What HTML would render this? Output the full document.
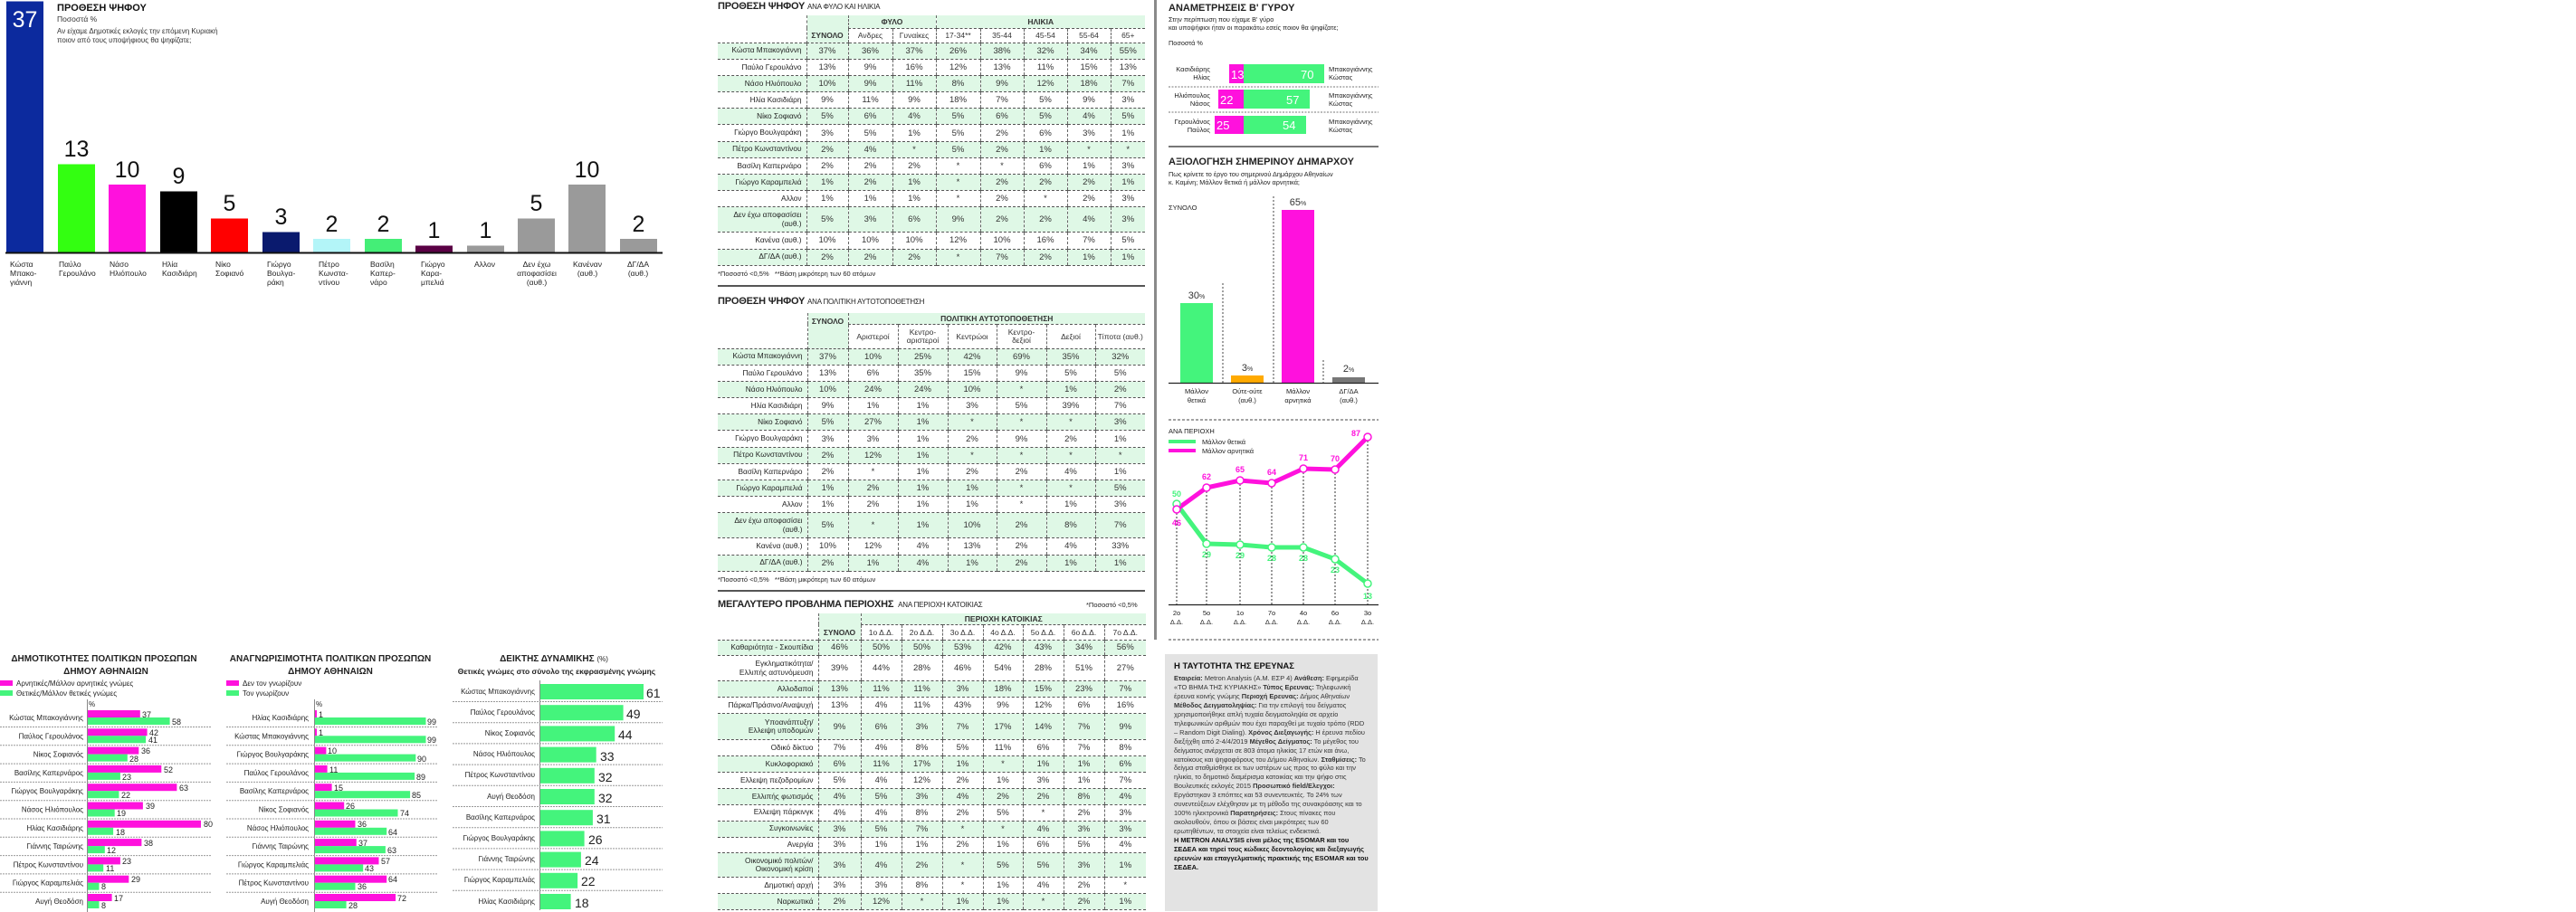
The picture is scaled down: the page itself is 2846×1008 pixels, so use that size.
<!DOCTYPE html>
<html><head><meta charset="utf-8">
<style>
body{margin:0;width:2846px;height:1008px;position:relative;overflow:hidden;background:#fff;font-family:"Liberation Sans","DejaVu Sans",sans-serif;color:#222}
.a{position:absolute}
table{border-collapse:collapse;table-layout:fixed;position:absolute;font-size:9.5px}
td{padding:0;text-align:center;border-bottom:1px dashed #555;border-left:1px dashed #666;color:#333;white-space:nowrap;overflow:hidden}
td:first-child{text-align:right;padding-right:5px;border-left:none;font-size:8.3px;color:#222;line-height:9.5px}
tr.g td{background:#dff8e6}
tr.h td{border-bottom:1px dashed #555;font-size:8.5px}
td.s{background:#dff8e6;font-weight:bold;font-size:9px}
.tt{position:absolute;font-weight:bold;font-size:11px;font-family:"Liberation Sans Narrow","Liberation Sans",sans-serif;letter-spacing:-.2px}
.tt span{font-weight:normal;font-size:8px;font-family:"Liberation Sans",sans-serif}
</style></head><body>

<svg class="a" style="left:0;top:0" width="2846" height="1008" font-family="Liberation Sans Narrow, Liberation Sans, sans-serif">
<g>
<rect x="7" y="1.5" width="41" height="277.5" fill="#0c2a9e"/>
<rect x="64" y="181.5" width="41" height="97.5" fill="#33ff11"/>
<rect x="120" y="204" width="41" height="75" fill="#ff11dd"/>
<rect x="177" y="211.5" width="41" height="67.5" fill="#000"/>
<rect x="233" y="241.5" width="41" height="37.5" fill="#ff0000"/>
<rect x="290" y="256.5" width="41" height="22.5" fill="#0a1a6e"/>
<rect x="346" y="264" width="41" height="15" fill="#b3f5f8"/>
<rect x="403" y="264" width="41" height="15" fill="#44ee77"/>
<rect x="459" y="271.5" width="41" height="7.5" fill="#5a0044"/>
<rect x="516" y="271.5" width="41" height="7.5" fill="#9a9a9a"/>
<rect x="572" y="241.5" width="41" height="37.5" fill="#9a9a9a"/>
<rect x="628" y="204" width="41" height="75" fill="#9a9a9a"/>
<rect x="685" y="264" width="41" height="15" fill="#9a9a9a"/>
<line x1="6" y1="279.5" x2="732" y2="279.5" stroke="#111" stroke-width="2"/>
<g font-size="25" text-anchor="middle" fill="#111">
<text x="27.5" y="30" fill="#fff">37</text>
<text x="84.5" y="173">13</text><text x="140.5" y="196">10</text><text x="197.5" y="203">9</text>
<text x="253.5" y="233">5</text><text x="310.5" y="248">3</text><text x="366.5" y="256">2</text>
<text x="423.5" y="256">2</text><text x="479.5" y="263">1</text><text x="536.5" y="263">1</text>
<text x="592.5" y="233">5</text><text x="648.5" y="196">10</text><text x="705.5" y="256">2</text>
</g>
<g font-size="8.5" fill="#222">
<text x="11" y="295">Κώστα</text><text x="11" y="305">Μπακο-</text><text x="11" y="315">γιάννη</text>
<text x="65" y="295">Παύλο</text><text x="65" y="305">Γερουλάνο</text>
<text x="121" y="295">Νάσο</text><text x="121" y="305">Ηλιόπουλο</text>
<text x="179" y="295">Ηλία</text><text x="179" y="305">Κασιδιάρη</text>
<text x="238" y="295">Νίκο</text><text x="238" y="305">Σοφιανό</text>
<text x="295" y="295">Γιώργο</text><text x="295" y="305">Βουλγα-</text><text x="295" y="315">ράκη</text>
<text x="352" y="295">Πέτρο</text><text x="352" y="305">Κωνστα-</text><text x="352" y="315">ντίνου</text>
<text x="409" y="295">Βασίλη</text><text x="409" y="305">Καπερ-</text><text x="409" y="315">νάρο</text>
<text x="465" y="295">Γιώργο</text><text x="465" y="305">Καρα-</text><text x="465" y="315">μπελιά</text>
<text x="524" y="295">Αλλον</text>
<text x="593" y="295" text-anchor="middle">Δεν έχω</text><text x="593" y="305" text-anchor="middle">αποφασίσει</text><text x="593" y="315" text-anchor="middle">(αυθ.)</text>
<text x="649" y="295" text-anchor="middle">Κανέναν</text><text x="649" y="305" text-anchor="middle">(αυθ.)</text>
<text x="705" y="295" text-anchor="middle">ΔΓ/ΔΑ</text><text x="705" y="305" text-anchor="middle">(αυθ.)</text>
</g>
<text x="63" y="12" font-size="11" font-weight="bold" fill="#111">ΠΡΟΘΕΣΗ ΨΗΦΟΥ</text>
<text x="63" y="24" font-size="8.5" fill="#333">Ποσοστά %</text>
<text x="63" y="37" font-size="8" fill="#333">Αν είχαμε Δημοτικές εκλογές την επόμενη Κυριακή</text>
<text x="63" y="47" font-size="8" fill="#333">ποιον από τους υποψήφιους θα ψηφίζατε;</text>
</g>

<!-- CHART A -->
<g font-size="8" fill="#222">
<text x="115" y="731" font-size="10" font-weight="bold" text-anchor="middle">ΔΗΜΟΤΙΚΟΤΗΤΕΣ ΠΟΛΙΤΙΚΩΝ ΠΡΟΣΩΠΩΝ</text>
<text x="117" y="745" font-size="10" font-weight="bold" text-anchor="middle">ΔΗΜΟΥ ΑΘΗΝΑΙΩΝ</text>
<rect x="0" y="752" width="14" height="6" fill="#ff11dd"/><text x="18" y="758" font-size="8">Αρνητικές/Μάλλον αρνητικές γνώμες</text>
<rect x="0" y="763" width="14" height="6" fill="#44f47c"/><text x="18" y="769" font-size="8">Θετικές/Μάλλον θετικές γνώμες</text>
<text x="98" y="781" font-size="8">%</text>
<line x1="96.5" y1="773" x2="96.5" y2="1008" stroke="#888" stroke-width="1"/>
<g stroke="#999" stroke-dasharray="2,1"><line x1="0" y1="803.5" x2="234" y2="803.5"/><line x1="0" y1="823.8" x2="234" y2="823.8"/><line x1="0" y1="844.1" x2="234" y2="844.1"/><line x1="0" y1="864.4" x2="234" y2="864.4"/><line x1="0" y1="884.7" x2="234" y2="884.7"/><line x1="0" y1="905" x2="234" y2="905"/><line x1="0" y1="925.3" x2="234" y2="925.3"/><line x1="0" y1="945.6" x2="234" y2="945.6"/><line x1="0" y1="965.9" x2="234" y2="965.9"/><line x1="0" y1="986.2" x2="234" y2="986.2"/></g>
<g fill="#ff11dd"><rect x="97" y="785" width="57.8" height="8"/><rect x="97" y="805.3" width="65.6" height="8"/><rect x="97" y="825.6" width="56.3" height="8"/><rect x="97" y="845.9" width="81.3" height="8"/><rect x="97" y="866.2" width="98.4" height="8"/><rect x="97" y="886.5" width="60.9" height="8"/><rect x="97" y="906.8" width="125" height="8"/><rect x="97" y="927.1" width="59.4" height="8"/><rect x="97" y="947.4" width="35.9" height="8"/><rect x="97" y="967.7" width="45.3" height="8"/><rect x="97" y="988" width="26.6" height="8"/></g>
<g fill="#44f47c"><rect x="97" y="793" width="90.6" height="8"/><rect x="97" y="813.3" width="64.1" height="8"/><rect x="97" y="833.6" width="43.8" height="8"/><rect x="97" y="853.9" width="35.9" height="8"/><rect x="97" y="874.2" width="34.4" height="8"/><rect x="97" y="894.5" width="29.7" height="8"/><rect x="97" y="914.8" width="28.1" height="8"/><rect x="97" y="935.1" width="18.8" height="8"/><rect x="97" y="955.4" width="17.2" height="8"/><rect x="97" y="975.7" width="12.5" height="8"/><rect x="97" y="996" width="12.5" height="8"/></g>
<g text-anchor="end"><text x="92" y="796">Κώστας Μπακογιάννης</text><text x="92" y="816.3">Παύλος Γερουλάνος</text><text x="92" y="836.6">Νίκος Σοφιανός</text><text x="92" y="856.9">Βασίλης Καπερνάρος</text><text x="92" y="877.2">Γιώργος Βουλγαράκης</text><text x="92" y="897.5">Νάσος Ηλιόπουλος</text><text x="92" y="917.8">Ηλίας Κασιδιάρης</text><text x="92" y="938.1">Γιάννης Ταιρώνης</text><text x="92" y="958.4">Πέτρος Κωνσταντίνου</text><text x="92" y="978.7">Γιώργος Καραμπελιάς</text><text x="92" y="999">Αυγή Θεοδόση</text></g>
<g font-size="9"><text x="157" y="793">37</text><text x="190" y="801">58</text><text x="165" y="813">42</text><text x="164" y="821">41</text><text x="156" y="833">36</text><text x="143" y="842">28</text><text x="181" y="854">52</text><text x="135" y="862">23</text><text x="198" y="874">63</text><text x="134" y="882">22</text><text x="161" y="894">39</text><text x="129" y="902">19</text><text x="225" y="914">80</text><text x="128" y="923">18</text><text x="159" y="935">38</text><text x="118" y="943">12</text><text x="135" y="955">23</text><text x="117" y="963">11</text><text x="145" y="975">29</text><text x="112" y="983">8</text><text x="126" y="996">17</text><text x="112" y="1004">8</text></g>
</g>

<!-- CHART B -->
<g font-size="8" fill="#222">
<text x="365" y="731" font-size="10" font-weight="bold" text-anchor="middle">ΑΝΑΓΝΩΡΙΣΙΜΟΤΗΤΑ ΠΟΛΙΤΙΚΩΝ ΠΡΟΣΩΠΩΝ</text>
<text x="365" y="745" font-size="10" font-weight="bold" text-anchor="middle">ΔΗΜΟΥ ΑΘΗΝΑΙΩΝ</text>
<rect x="250" y="752" width="14" height="6" fill="#ff11dd"/><text x="268" y="758" font-size="8">Δεν τον γνωρίζουν</text>
<rect x="250" y="763" width="14" height="6" fill="#44f47c"/><text x="268" y="769" font-size="8">Τον γνωρίζουν</text>
<text x="349" y="781" font-size="8">%</text>
<line x1="347.5" y1="773" x2="347.5" y2="1008" stroke="#888"/>
<g stroke="#999" stroke-dasharray="2,1"><line x1="250" y1="803.5" x2="483" y2="803.5"/><line x1="250" y1="823.8" x2="483" y2="823.8"/><line x1="250" y1="844.1" x2="483" y2="844.1"/><line x1="250" y1="864.4" x2="483" y2="864.4"/><line x1="250" y1="884.7" x2="483" y2="884.7"/><line x1="250" y1="905" x2="483" y2="905"/><line x1="250" y1="925.3" x2="483" y2="925.3"/><line x1="250" y1="945.6" x2="483" y2="945.6"/><line x1="250" y1="965.9" x2="483" y2="965.9"/><line x1="250" y1="986.2" x2="483" y2="986.2"/></g>
<g fill="#ff11dd"><rect x="348" y="785" width="2" height="8"/><rect x="348" y="805.3" width="2" height="8"/><rect x="348" y="825.6" width="12.4" height="8"/><rect x="348" y="845.9" width="13.6" height="8"/><rect x="348" y="866.2" width="18.6" height="8"/><rect x="348" y="886.5" width="32.2" height="8"/><rect x="348" y="906.8" width="44.5" height="8"/><rect x="348" y="927.1" width="45.8" height="8"/><rect x="348" y="947.4" width="70.5" height="8"/><rect x="348" y="967.7" width="79.2" height="8"/><rect x="348" y="988" width="89.1" height="8"/></g>
<g fill="#44f47c"><rect x="348" y="793" width="122.5" height="8"/><rect x="348" y="813.3" width="122.5" height="8"/><rect x="348" y="833.6" width="111.3" height="8"/><rect x="348" y="853.9" width="110.1" height="8"/><rect x="348" y="874.2" width="105.1" height="8"/><rect x="348" y="894.5" width="91.5" height="8"/><rect x="348" y="914.8" width="79.2" height="8"/><rect x="348" y="935.1" width="77.9" height="8"/><rect x="348" y="955.4" width="53.2" height="8"/><rect x="348" y="975.7" width="44.5" height="8"/><rect x="348" y="996" width="34.6" height="8"/></g>
<g text-anchor="end"><text x="341" y="796">Ηλίας Κασιδιάρης</text><text x="341" y="816.3">Κώστας Μπακογιάννης</text><text x="341" y="836.6">Γιώργος Βουλγαράκης</text><text x="341" y="856.9">Παύλος Γερουλάνος</text><text x="341" y="877.2">Βασίλης Καπερνάρος</text><text x="341" y="897.5">Νίκος Σοφιανός</text><text x="341" y="917.8">Νάσος Ηλιόπουλος</text><text x="341" y="938.1">Γιάννης Ταιρώνης</text><text x="341" y="958.4">Γιώργος Καραμπελιάς</text><text x="341" y="978.7">Πέτρος Κωνσταντίνου</text><text x="341" y="999">Αυγή Θεοδόση</text></g>
<g font-size="9"><text x="352" y="793">1</text><text x="472" y="801">99</text><text x="352" y="813">1</text><text x="472" y="821">99</text><text x="362" y="833">10</text><text x="461" y="842">90</text><text x="364" y="854">11</text><text x="460" y="862">89</text><text x="369" y="874">15</text><text x="455" y="882">85</text><text x="382" y="894">26</text><text x="442" y="902">74</text><text x="395" y="914">36</text><text x="429" y="923">64</text><text x="396" y="935">37</text><text x="428" y="943">63</text><text x="421" y="955">57</text><text x="403" y="963">43</text><text x="429" y="975">64</text><text x="395" y="983">36</text><text x="439" y="996">72</text><text x="385" y="1004">28</text></g>
</g>

<!-- CHART C -->
<g font-size="8" fill="#222">
<text x="612" y="731" font-size="10" font-weight="bold" text-anchor="middle">ΔΕΙΚΤΗΣ ΔΥΝΑΜΙΚΗΣ <tspan font-weight="normal" font-size="8">(%)</tspan></text>
<text x="615" y="745" font-size="8.5" font-weight="bold" text-anchor="middle">Θετικές γνώμες στο σύνολο της εκφρασμένης γνώμης</text>
<line x1="596.5" y1="752" x2="596.5" y2="1006" stroke="#888"/>
<g stroke="#999" stroke-dasharray="2,1"><line x1="500" y1="775.5" x2="732" y2="775.5"/><line x1="500" y1="798.7" x2="732" y2="798.7"/><line x1="500" y1="821.9" x2="732" y2="821.9"/><line x1="500" y1="845.1" x2="732" y2="845.1"/><line x1="500" y1="868.3" x2="732" y2="868.3"/><line x1="500" y1="891.5" x2="732" y2="891.5"/><line x1="500" y1="914.7" x2="732" y2="914.7"/><line x1="500" y1="937.9" x2="732" y2="937.9"/><line x1="500" y1="961.1" x2="732" y2="961.1"/><line x1="500" y1="984.3" x2="732" y2="984.3"/></g>
<g fill="#44f47c"><rect x="597" y="756" width="114" height="17"/><rect x="597" y="779.2" width="91.6" height="17"/><rect x="597" y="802.4" width="82.2" height="17"/><rect x="597" y="825.6" width="61.7" height="17"/><rect x="597" y="848.8" width="59.8" height="17"/><rect x="597" y="872" width="59.8" height="17"/><rect x="597" y="895.2" width="57.9" height="17"/><rect x="597" y="918.4" width="48.6" height="17"/><rect x="597" y="941.6" width="44.9" height="17"/><rect x="597" y="964.8" width="41.1" height="17"/><rect x="597" y="988" width="33.6" height="17"/></g>
<g text-anchor="end"><text x="591" y="767">Κώστας Μπακογιάννης</text><text x="591" y="790">Παύλος Γερουλάνος</text><text x="591" y="813">Νίκος Σοφιανός</text><text x="591" y="836">Νάσος Ηλιόπουλος</text><text x="591" y="859">Πέτρος Κωνσταντίνου</text><text x="591" y="883">Αυγή Θεοδόση</text><text x="591" y="906">Βασίλης Καπερνάρος</text><text x="591" y="929">Γιώργος Βουλγαράκης</text><text x="591" y="952">Γιάννης Ταιρώνης</text><text x="591" y="975">Γιώργος Καραμπελιάς</text><text x="591" y="999">Ηλίας Κασιδιάρης</text></g>
<g font-size="14"><text x="714" y="771">61</text><text x="692" y="794">49</text><text x="683" y="817">44</text><text x="663" y="841">33</text><text x="661" y="864">32</text><text x="661" y="887">32</text><text x="659" y="910">31</text><text x="650" y="933">26</text><text x="646" y="956">24</text><text x="642" y="979">22</text><text x="635" y="1003">18</text></g>
</g>

<rect x="1275" y="0" width="3" height="707" fill="#8a8a8a"/>
<line x1="793" y1="316" x2="1265" y2="316" stroke="#555" stroke-width="2"/>
<line x1="793" y1="653" x2="1265" y2="653" stroke="#555" stroke-width="2"/>

<g font-family="Liberation Sans, sans-serif" fill="#222">
<text x="1291" y="12" font-size="11" font-weight="bold" font-family="Liberation Sans Narrow, Liberation Sans, sans-serif">ΑΝΑΜΕΤΡΗΣΕΙΣ Β' ΓΥΡΟΥ</text>
<text x="1291" y="24" font-size="7.3">Στην περίπτωση που είχαμε Β' γύρο</text>
<text x="1291" y="33" font-size="7.3">και υποψήφιοι ήταν οι παρακάτω εσείς ποιον θα ψηφίζατε;</text>
<text x="1291" y="50" font-size="7.3">Ποσοστά %</text>
<rect x="1358" y="71" width="16" height="21" fill="#ff11dd"/><rect x="1374" y="71" width="89" height="21" fill="#44f47c"/>
<rect x="1346" y="99" width="28" height="21" fill="#ff11dd"/><rect x="1374" y="99" width="73" height="21" fill="#44f47c"/>
<rect x="1342" y="128" width="32" height="20" fill="#ff11dd"/><rect x="1374" y="128" width="69" height="20" fill="#44f47c"/>
<g font-size="13" fill="#fff"><text x="1360" y="87">13</text><text x="1437" y="87">70</text><text x="1348" y="115">22</text><text x="1421" y="115">57</text><text x="1344" y="143">25</text><text x="1417" y="143">54</text></g>
<g font-size="7.5" text-anchor="end"><text x="1337" y="79">Κασιδιάρης</text><text x="1337" y="88">Ηλίας</text><text x="1337" y="108">Ηλιόπουλος</text><text x="1337" y="117">Νάσος</text><text x="1337" y="137">Γερουλάνος</text><text x="1337" y="146">Παύλος</text></g>
<g font-size="7.5"><text x="1468" y="79">Μπακογιάννης</text><text x="1468" y="88">Κώστας</text><text x="1468" y="108">Μπακογιάννης</text><text x="1468" y="117">Κώστας</text><text x="1468" y="137">Μπακογιάννης</text><text x="1468" y="146">Κώστας</text></g>
<g stroke="#777" stroke-dasharray="2,1.5"><line x1="1291" y1="96" x2="1523" y2="96"/><line x1="1291" y1="124" x2="1523" y2="124"/></g>
<line x1="1291" y1="162" x2="1523" y2="162" stroke="#777" stroke-width="2"/>
<text x="1291" y="182" font-size="11" font-weight="bold" font-family="Liberation Sans Narrow, Liberation Sans, sans-serif">ΑΞΙΟΛΟΓΗΣΗ ΣΗΜΕΡΙΝΟΥ ΔΗΜΑΡΧΟΥ</text>
<text x="1291" y="195" font-size="7.3">Πως κρίνετε το έργο του σημερινού Δημάρχου Αθηναίων</text>
<text x="1291" y="204" font-size="7.3">κ. Καμίνη; Μάλλον θετικά ή μάλλον αρνητικά;</text>
<text x="1291" y="232" font-size="7.5">ΣΥΝΟΛΟ</text>
<g stroke="#444" stroke-dasharray="2,2"><line x1="1351" y1="313" x2="1351" y2="423"/><line x1="1407" y1="217" x2="1407" y2="423"/><line x1="1462" y1="398" x2="1462" y2="423"/></g>
<rect x="1304" y="335" width="36" height="88" fill="#44f47c"/>
<rect x="1360" y="415" width="36" height="8" fill="#ffaa00"/>
<rect x="1416" y="232" width="36" height="191" fill="#ff11dd"/>
<rect x="1472" y="417" width="36" height="6" fill="#777"/>
<line x1="1291" y1="423.5" x2="1523" y2="423.5" stroke="#222" stroke-width="1.2"/>
<g font-size="11" text-anchor="middle" fill="#333"><text x="1322" y="330">30<tspan font-size="7">%</tspan></text><text x="1378" y="410">3<tspan font-size="7">%</tspan></text><text x="1434" y="227">65<tspan font-size="7">%</tspan></text><text x="1490" y="411">2<tspan font-size="7">%</tspan></text></g>
<g font-size="7.5" text-anchor="middle"><text x="1322" y="435">Μάλλον</text><text x="1322" y="445">θετικά</text><text x="1378" y="435">Ούτε-ούτε</text><text x="1378" y="445">(αυθ.)</text><text x="1434" y="435">Μάλλον</text><text x="1434" y="445">αρνητικά</text><text x="1490" y="435">ΔΓ/ΔΑ</text><text x="1490" y="445">(αυθ.)</text></g>
<line x1="1291" y1="464" x2="1523" y2="464" stroke="#444" stroke-dasharray="3,2"/>
<text x="1291" y="479" font-size="7.5">ΑΝΑ ΠΕΡΙΟΧΗ</text>
<line x1="1291" y1="488" x2="1321" y2="488" stroke="#44f47c" stroke-width="4"/><text x="1328" y="491" font-size="7.5">Μάλλον θετικά</text>
<line x1="1291" y1="498" x2="1321" y2="498" stroke="#ff11dd" stroke-width="4"/><text x="1328" y="501" font-size="7.5">Μάλλον αρνητικά</text>
<g stroke="#333" stroke-dasharray="2,2"><line x1="1300" y1="563" x2="1300" y2="668"/><line x1="1333" y1="539" x2="1333" y2="668"/><line x1="1370" y1="531" x2="1370" y2="668"/><line x1="1405" y1="534" x2="1405" y2="668"/><line x1="1440" y1="518" x2="1440" y2="668"/><line x1="1475" y1="519" x2="1475" y2="668"/><line x1="1511" y1="483" x2="1511" y2="668"/></g>
<polyline points="1300,557 1333,601 1370,602 1405,605 1440,605 1475,618 1511,645" fill="none" stroke="#44f47c" stroke-width="5"/>
<polyline points="1300,563 1333,539 1370,531 1405,534 1440,518 1475,519 1511,483" fill="none" stroke="#ff11dd" stroke-width="5"/>
<g fill="#fff" stroke="#44f47c" stroke-width="1.5"><circle cx="1300" cy="557" r="4"/><circle cx="1333" cy="601" r="4"/><circle cx="1370" cy="602" r="4"/><circle cx="1405" cy="605" r="4"/><circle cx="1440" cy="605" r="4"/><circle cx="1475" cy="618" r="4"/><circle cx="1511" cy="645" r="4"/></g>
<g fill="#fff" stroke="#ff11dd" stroke-width="1.5"><circle cx="1300" cy="563" r="4"/><circle cx="1333" cy="539" r="4"/><circle cx="1370" cy="531" r="4"/><circle cx="1405" cy="534" r="4"/><circle cx="1440" cy="518" r="4"/><circle cx="1475" cy="519" r="4"/><circle cx="1511" cy="483" r="4"/></g>
<g font-size="9" font-weight="bold" text-anchor="middle" fill="#ff11dd"><text x="1300" y="581">46</text><text x="1333" y="530">62</text><text x="1370" y="522">65</text><text x="1405" y="525">64</text><text x="1440" y="509">71</text><text x="1475" y="510">70</text><text x="1498" y="482">87</text></g>
<g font-size="9" font-weight="bold" text-anchor="middle" fill="#44f47c"><text x="1300" y="549">50</text><text x="1333" y="616">29</text><text x="1370" y="617">29</text><text x="1405" y="620">28</text><text x="1440" y="620">28</text><text x="1475" y="633">23</text><text x="1511" y="662">13</text></g>
<line x1="1291" y1="668.5" x2="1523" y2="668.5" stroke="#222" stroke-width="1.2"/>
<g font-size="7.5" text-anchor="middle"><text x="1300" y="680">2ο</text><text x="1300" y="690">Δ.Δ.</text><text x="1333" y="680">5ο</text><text x="1333" y="690">Δ.Δ.</text><text x="1370" y="680">1ο</text><text x="1370" y="690">Δ.Δ.</text><text x="1405" y="680">7ο</text><text x="1405" y="690">Δ.Δ.</text><text x="1440" y="680">4ο</text><text x="1440" y="690">Δ.Δ.</text><text x="1475" y="680">6ο</text><text x="1475" y="690">Δ.Δ.</text><text x="1511" y="680">3ο</text><text x="1511" y="690">Δ.Δ.</text></g>
<line x1="1291" y1="707" x2="1523" y2="707" stroke="#444" stroke-dasharray="3,2"/>
</g>
</svg>

<div class="tt" style="left:793px;top:1px">ΠΡΟΘΕΣΗ ΨΗΦΟΥ <span>ΑΝΑ ΦΥΛΟ ΚΑΙ ΗΛΙΚΙΑ</span></div>
<table style="left:793px;top:17px;width:472px">
<colgroup><col style="width:98px"><col style="width:46px"><col style="width:49px"><col style="width:48px"><col style="width:49px"><col style="width:48px"><col style="width:48px"><col style="width:48px"><col style="width:38px"></colgroup>
<tr class="h" style="height:14px"><td style="border-bottom:none"></td><td class="s" rowspan="2" style="vertical-align:bottom;padding-bottom:3px">ΣΥΝΟΛΟ</td><td colspan="2" style="background:#dff8e6;font-weight:bold">ΦΥΛΟ</td><td colspan="5" style="background:#dff8e6;font-weight:bold">ΗΛΙΚΙΑ</td></tr>
<tr class="h" style="height:16px"><td></td><td>Ανδρες</td><td>Γυναίκες</td><td>17-34**</td><td>35-44</td><td>45-54</td><td>55-64</td><td>65+</td></tr>
<tr class="g" style="height:18.2px"><td>Κώστα Μπακογιάννη</td><td>37%</td><td>36%</td><td>37%</td><td>26%</td><td>38%</td><td>32%</td><td>34%</td><td>55%</td></tr>
<tr style="height:18.2px"><td>Παύλο Γερουλάνο</td><td>13%</td><td>9%</td><td>16%</td><td>12%</td><td>13%</td><td>11%</td><td>15%</td><td>13%</td></tr>
<tr class="g" style="height:18.2px"><td>Νάσο Ηλιόπουλο</td><td>10%</td><td>9%</td><td>11%</td><td>8%</td><td>9%</td><td>12%</td><td>18%</td><td>7%</td></tr>
<tr style="height:18.2px"><td>Ηλία Κασιδιάρη</td><td>9%</td><td>11%</td><td>9%</td><td>18%</td><td>7%</td><td>5%</td><td>9%</td><td>3%</td></tr>
<tr class="g" style="height:18.2px"><td>Νίκο Σοφιανό</td><td>5%</td><td>6%</td><td>4%</td><td>5%</td><td>6%</td><td>5%</td><td>4%</td><td>5%</td></tr>
<tr style="height:18.2px"><td>Γιώργο Βουλγαράκη</td><td>3%</td><td>5%</td><td>1%</td><td>5%</td><td>2%</td><td>6%</td><td>3%</td><td>1%</td></tr>
<tr class="g" style="height:18.2px"><td>Πέτρο Κωνσταντίνου</td><td>2%</td><td>4%</td><td>*</td><td>5%</td><td>2%</td><td>1%</td><td>*</td><td>*</td></tr>
<tr style="height:18.2px"><td>Βασίλη Καπερνάρο</td><td>2%</td><td>2%</td><td>2%</td><td>*</td><td>*</td><td>6%</td><td>1%</td><td>3%</td></tr>
<tr class="g" style="height:18.2px"><td>Γιώργο Καραμπελιά</td><td>1%</td><td>2%</td><td>1%</td><td>*</td><td>2%</td><td>2%</td><td>2%</td><td>1%</td></tr>
<tr style="height:18.2px"><td>Αλλον</td><td>1%</td><td>1%</td><td>1%</td><td>*</td><td>2%</td><td>*</td><td>2%</td><td>3%</td></tr>
<tr class="g" style="height:28px"><td>Δεν έχω αποφασίσει<br>(αυθ.)</td><td>5%</td><td>3%</td><td>6%</td><td>9%</td><td>2%</td><td>2%</td><td>4%</td><td>3%</td></tr>
<tr style="height:18.2px"><td>Κανένα (αυθ.)</td><td>10%</td><td>10%</td><td>10%</td><td>12%</td><td>10%</td><td>16%</td><td>7%</td><td>5%</td></tr>
<tr class="g" style="height:18.2px"><td>ΔΓ/ΔΑ (αυθ.)</td><td>2%</td><td>2%</td><td>2%</td><td>*</td><td>7%</td><td>2%</td><td>1%</td><td>1%</td></tr>
</table>
<div class="a" style="left:793px;top:298px;font-size:7.5px">*Ποσοστό &lt;0,5% &nbsp;&nbsp;**Βάση μικρότερη των 60 ατόμων</div>

<div class="tt" style="left:793px;top:327px">ΠΡΟΘΕΣΗ ΨΗΦΟΥ <span>ΑΝΑ ΠΟΛΙΤΙΚΗ ΑΥΤΟΤΟΠΟΘΕΤΗΣΗ</span></div>
<table style="left:793px;top:346px;width:472px">
<colgroup><col style="width:99px"><col style="width:45px"><col style="width:55px"><col style="width:55px"><col style="width:54px"><col style="width:55px"><col style="width:54px"><col style="width:55px"></colgroup>
<tr class="h" style="height:12px"><td style="border-bottom:none"></td><td class="s" rowspan="2" style="vertical-align:top;padding-top:4px">ΣΥΝΟΛΟ</td><td colspan="6" style="background:#dff8e6;font-weight:bold">ΠΟΛΙΤΙΚΗ ΑΥΤΟΤΟΠΟΘΕΤΗΣΗ</td></tr>
<tr class="h" style="height:27px"><td></td><td>Αριστεροί</td><td style="line-height:9px">Κεντρο-<br>αριστεροί</td><td>Κεντρώοι</td><td style="line-height:9px">Κεντρο-<br>δεξιοί</td><td>Δεξιοί</td><td>Τίποτα (αυθ.)</td></tr>
<tr class="g" style="height:18.2px"><td>Κώστα Μπακογιάννη</td><td>37%</td><td>10%</td><td>25%</td><td>42%</td><td>69%</td><td>35%</td><td>32%</td></tr>
<tr style="height:18.2px"><td>Παύλο Γερουλάνο</td><td>13%</td><td>6%</td><td>35%</td><td>15%</td><td>9%</td><td>5%</td><td>5%</td></tr>
<tr class="g" style="height:18.2px"><td>Νάσο Ηλιόπουλο</td><td>10%</td><td>24%</td><td>24%</td><td>10%</td><td>*</td><td>1%</td><td>2%</td></tr>
<tr style="height:18.2px"><td>Ηλία Κασιδιάρη</td><td>9%</td><td>1%</td><td>1%</td><td>3%</td><td>5%</td><td>39%</td><td>7%</td></tr>
<tr class="g" style="height:18.2px"><td>Νίκο Σοφιανό</td><td>5%</td><td>27%</td><td>1%</td><td>*</td><td>*</td><td>*</td><td>3%</td></tr>
<tr style="height:18.2px"><td>Γιώργο Βουλγαράκη</td><td>3%</td><td>3%</td><td>1%</td><td>2%</td><td>9%</td><td>2%</td><td>1%</td></tr>
<tr class="g" style="height:18.2px"><td>Πέτρο Κωνσταντίνου</td><td>2%</td><td>12%</td><td>1%</td><td>*</td><td>*</td><td>*</td><td>*</td></tr>
<tr style="height:18.2px"><td>Βασίλη Καπερνάρο</td><td>2%</td><td>*</td><td>1%</td><td>2%</td><td>2%</td><td>4%</td><td>1%</td></tr>
<tr class="g" style="height:18.2px"><td>Γιώργο Καραμπελιά</td><td>1%</td><td>2%</td><td>1%</td><td>1%</td><td>*</td><td>*</td><td>5%</td></tr>
<tr style="height:18.2px"><td>Αλλον</td><td>1%</td><td>2%</td><td>1%</td><td>1%</td><td>*</td><td>1%</td><td>3%</td></tr>
<tr class="g" style="height:28px"><td>Δεν έχω αποφασίσει<br>(αυθ.)</td><td>5%</td><td>*</td><td>1%</td><td>10%</td><td>2%</td><td>8%</td><td>7%</td></tr>
<tr style="height:18.2px"><td>Κανένα (αυθ.)</td><td>10%</td><td>12%</td><td>4%</td><td>13%</td><td>2%</td><td>4%</td><td>33%</td></tr>
<tr class="g" style="height:18.2px"><td>ΔΓ/ΔΑ (αυθ.)</td><td>2%</td><td>1%</td><td>4%</td><td>1%</td><td>2%</td><td>1%</td><td>1%</td></tr>
</table>
<div class="a" style="left:793px;top:636px;font-size:7.5px">*Ποσοστό &lt;0,5% &nbsp;&nbsp;**Βάση μικρότερη των 60 ατόμων</div>

<div class="tt" style="left:793px;top:662px">ΜΕΓΑΛΥΤΕΡΟ ΠΡΟΒΛΗΜΑ ΠΕΡΙΟΧΗΣ <span>&nbsp;ΑΝΑ ΠΕΡΙΟΧΗ ΚΑΤΟΙΚΙΑΣ</span></div>
<div class="a" style="left:1200px;top:664px;font-size:7.5px">*Ποσοστό &lt;0,5%</div>
<table style="left:793px;top:678px;width:473px">
<colgroup><col style="width:111px"><col style="width:47px"><col style="width:45px"><col style="width:45px"><col style="width:45px"><col style="width:44px"><col style="width:45px"><col style="width:45px"><col style="width:46px"></colgroup>
<tr class="h" style="height:12px"><td style="border-bottom:none"></td><td class="s" rowspan="2" style="vertical-align:bottom;padding-bottom:3px">ΣΥΝΟΛΟ</td><td colspan="7" style="background:#dff8e6;font-weight:bold">ΠΕΡΙΟΧΗ ΚΑΤΟΙΚΙΑΣ</td></tr>
<tr class="h" style="height:17px"><td></td><td>1ο Δ.Δ.</td><td>2ο Δ.Δ.</td><td>3ο Δ.Δ.</td><td>4ο Δ.Δ.</td><td>5ο Δ.Δ.</td><td>6ο Δ.Δ.</td><td>7ο Δ.Δ.</td></tr>
<tr class="g" style="height:17.9px"><td>Καθαριότητα - Σκουπίδια</td><td>46%</td><td>50%</td><td>50%</td><td>53%</td><td>42%</td><td>43%</td><td>34%</td><td>56%</td></tr>
<tr style="height:28px"><td>Εγκληματικότητα/<br>Ελλιπής αστυνόμευση</td><td>39%</td><td>44%</td><td>28%</td><td>46%</td><td>54%</td><td>28%</td><td>51%</td><td>27%</td></tr>
<tr class="g" style="height:17.9px"><td>Αλλοδαποί</td><td>13%</td><td>11%</td><td>11%</td><td>3%</td><td>18%</td><td>15%</td><td>23%</td><td>7%</td></tr>
<tr style="height:17.9px"><td>Πάρκα/Πράσινο/Αναψυχή</td><td>13%</td><td>4%</td><td>11%</td><td>43%</td><td>9%</td><td>12%</td><td>6%</td><td>16%</td></tr>
<tr class="g" style="height:29px"><td>Υποανάπτυξη/<br>Ελλειψη υποδομών</td><td>9%</td><td>6%</td><td>3%</td><td>7%</td><td>17%</td><td>14%</td><td>7%</td><td>9%</td></tr>
<tr style="height:17.9px"><td>Οδικό δίκτυο</td><td>7%</td><td>4%</td><td>8%</td><td>5%</td><td>11%</td><td>6%</td><td>7%</td><td>8%</td></tr>
<tr class="g" style="height:17.9px"><td>Κυκλοφοριακό</td><td>6%</td><td>11%</td><td>17%</td><td>1%</td><td>*</td><td>1%</td><td>1%</td><td>6%</td></tr>
<tr style="height:17.9px"><td>Ελλειψη πεζοδρομίων</td><td>5%</td><td>4%</td><td>12%</td><td>2%</td><td>1%</td><td>3%</td><td>1%</td><td>7%</td></tr>
<tr class="g" style="height:17.9px"><td>Ελλιπής φωτισμός</td><td>4%</td><td>5%</td><td>3%</td><td>4%</td><td>2%</td><td>2%</td><td>8%</td><td>4%</td></tr>
<tr style="height:17.9px"><td>Ελλειψη πάρκινγκ</td><td>4%</td><td>4%</td><td>8%</td><td>2%</td><td>5%</td><td>*</td><td>2%</td><td>3%</td></tr>
<tr class="g" style="height:17.9px"><td>Συγκοινωνίες</td><td>3%</td><td>5%</td><td>7%</td><td>*</td><td>*</td><td>4%</td><td>3%</td><td>3%</td></tr>
<tr style="height:17.9px"><td>Ανεργία</td><td>3%</td><td>1%</td><td>1%</td><td>2%</td><td>1%</td><td>6%</td><td>5%</td><td>4%</td></tr>
<tr class="g" style="height:27px"><td>Οικονομικό πολιτών/<br>Οικονομική κρίση</td><td>3%</td><td>4%</td><td>2%</td><td>*</td><td>5%</td><td>5%</td><td>3%</td><td>1%</td></tr>
<tr style="height:17.9px"><td>Δημοτική αρχή</td><td>3%</td><td>3%</td><td>8%</td><td>*</td><td>1%</td><td>4%</td><td>2%</td><td>*</td></tr>
<tr class="g" style="height:17.9px"><td>Ναρκωτικά</td><td>2%</td><td>12%</td><td>*</td><td>1%</td><td>1%</td><td>*</td><td>2%</td><td>1%</td></tr>
</table>

<div class="a" style="left:1287px;top:723px;width:235px;height:284px;background:#e3e3e3;box-sizing:border-box;padding:9px 10px 0 10px;font-size:7.4px;line-height:9.95px;color:#333">
<div style="font-size:9.5px;font-weight:bold;color:#111;margin-bottom:3px">Η ΤΑΥΤΟΤΗΤΑ ΤΗΣ ΕΡΕΥΝΑΣ</div>
<b>Εταιρεία:</b> Metron Analysis (Α.Μ. ΕΣΡ 4) <b>Ανάθεση:</b> Εφημερίδα «ΤΟ ΒΗΜΑ ΤΗΣ ΚΥΡΙΑΚΗΣ» <b>Τύπος Ερευνας:</b> Τηλεφωνική έρευνα κοινής γνώμης <b>Περιοχή Ερευνας:</b> Δήμος Αθηναίων <b>Μέθοδος Δειγματοληψίας:</b> Για την επιλογή του δείγματος χρησιμοποιήθηκε απλή τυχαία δειγματοληψία σε αρχείο τηλεφωνικών αριθμών που έχει παραχθεί με τυχαίο τρόπο (RDD – Random Digit Dialing). <b>Χρόνος Διεξαγωγής:</b> Η έρευνα πεδίου διεξήχθη από 2-4/4/2019 <b>Μέγεθος Δείγματος:</b> Το μέγεθος του δείγματος ανέρχεται σε 803 άτομα ηλικίας 17 ετών και άνω, κατοίκους και ψηφοφόρους του Δήμου Αθηναίων. <b>Σταθμίσεις:</b> Το δείγμα σταθμίσθηκε εκ των υστέρων ως προς το φύλο και την ηλικία, το δημοτικό διαμέρισμα κατοικίας και την ψήφο στις Βουλευτικές εκλογές 2015 <b>Προσωπικό field/Ελεγχοι:</b> Εργάστηκαν 3 επόπτες και 53 συνεντευκτές. Το 24% των συνεντεύξεων ελέχθησαν με τη μέθοδο της συνακρόασης και το 100% ηλεκτρονικά <b>Παρατηρήσεις:</b> Στους πίνακες που ακολουθούν, όπου οι βάσεις είναι μικρότερες των 60 ερωτηθέντων, τα στοιχεία είναι τελείως ενδεικτικά.<br>
<b style="color:#111">Η METRON ANALYSIS είναι μέλος της ESOMAR και του ΣΕΔΕΑ και τηρεί τους κώδικες δεοντολογίας και διεξαγωγής ερευνών και επαγγελματικής πρακτικής της ESOMAR και του ΣΕΔΕΑ.</b>
</div>
</body></html>
